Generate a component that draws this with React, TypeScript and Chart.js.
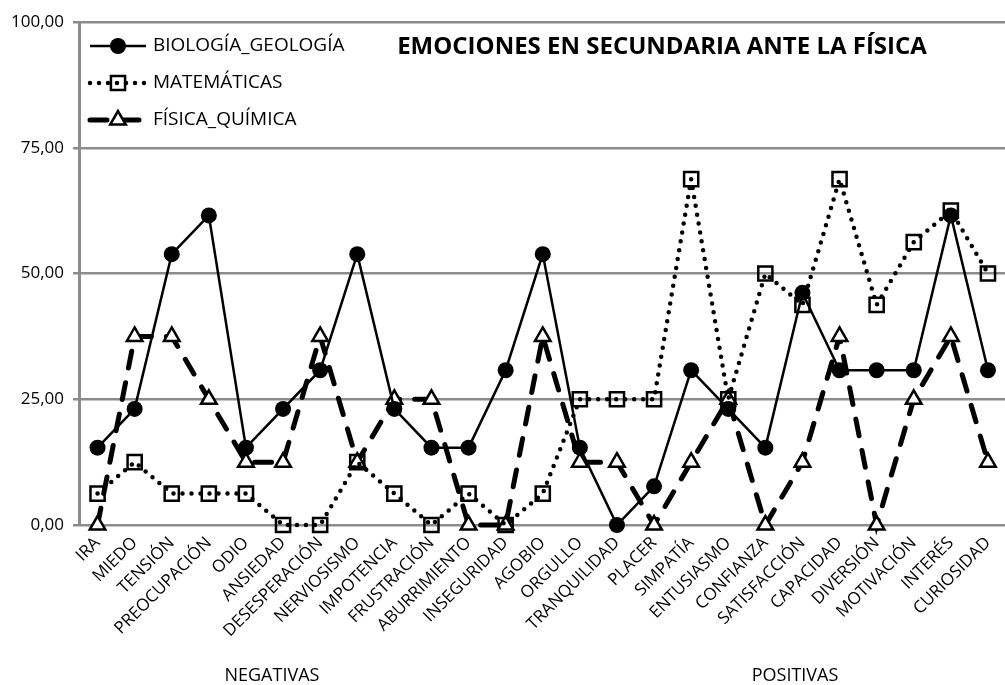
import React, { useEffect, useRef } from 'react';
import { Chart, registerables } from 'chart.js';

Chart.register(...registerables);

const chartTitle = 'EMOCIONES EN SECUNDARIA ANTE LA FÍSICA';

const categories = [
  'IRA', 'MIEDO', 'TENSIÓN', 'PREOCUPACIÓN', 'ODIO', 'ANSIEDAD', 'DESESPERACIÓN',
  'NERVIOSISMO', 'IMPOTENCIA', 'FRUSTRACIÓN', 'ABURRIMIENTO', 'INSEGURIDAD', 'AGOBIO',
  'ORGULLO', 'TRANQUILIDAD', 'PLACER', 'SIMPATÍA', 'ENTUSIASMO', 'CONFIANZA',
  'SATISFACCIÓN', 'CAPACIDAD', 'DIVERSIÓN', 'MOTIVACIÓN', 'INTERÉS', 'CURIOSIDAD',
];

const seriesNames = ['BIOLOGÍA_GEOLOGÍA', 'MATEMÁTICAS', 'FÍSICA_QUÍMICA'];

const biologiaGeologia = [
  15.38, 23.08, 53.85, 61.54, 15.38, 23.08, 30.77, 53.85, 23.08, 15.38, 15.38, 30.77, 53.85,
  15.38, 0, 7.69, 30.77, 23.08, 15.38, 46.15, 30.77, 30.77, 30.77, 61.54, 30.77,
];

const matematicas = [
  6.25, 12.5, 6.25, 6.25, 6.25, 0, 0, 12.5, 6.25, 0, 6.25, 0, 6.25,
  25, 25, 25, 68.75, 25, 50, 43.75, 68.75, 43.75, 56.25, 62.5, 50,
];

const fisicaQuimica = [
  0, 37.5, 37.5, 25, 12.5, 12.5, 37.5, 12.5, 25, 25, 0, 0, 37.5,
  12.5, 12.5, 0, 12.5, 25, 0, 12.5, 37.5, 0, 25, 37.5, 12.5,
];

const yTickLabels = ['0,00', '25,00', '50,00', '75,00', '100,00'];
const groupLabels = ['NEGATIVAS', 'POSITIVAS'];

const FONT = '"Open Sans", "Noto Sans", sans-serif';
const GRID = '#8c8c8c';

function drawMarker(ctx: CanvasRenderingContext2D, style: string, x: number, y: number, r: number, fill: string, lw: number) {
  ctx.save();
  ctx.setLineDash([]);
  ctx.lineWidth = lw;
  ctx.strokeStyle = '#000';
  ctx.fillStyle = fill;
  ctx.beginPath();
  if (style === 'circle') {
    ctx.arc(x, y, r, 0, Math.PI * 2);
    ctx.fill();
  } else if (style === 'rect') {
    const s = r * Math.SQRT1_2;
    ctx.rect(x - s, y - s, 2 * s, 2 * s);
    ctx.fill();
    ctx.stroke();
  } else {
    ctx.moveTo(x, y - r);
    ctx.lineTo(x + r * Math.sin((2 * Math.PI) / 3), y + r * 0.5);
    ctx.lineTo(x - r * Math.sin((2 * Math.PI) / 3), y + r * 0.5);
    ctx.closePath();
    ctx.fill();
    ctx.stroke();
  }
  ctx.restore();
}

const overlayPlugin = {
  id: 'overlay',
  afterDraw(chart: any) {
    const ctx: CanvasRenderingContext2D = chart.ctx;
    const area = chart.chartArea;
    const xScale = chart.scales.x;
    ctx.save();
    // title
    ctx.fillStyle = '#000';
    ctx.font = `bold 24px ${FONT}`;
    ctx.textAlign = 'center';
    ctx.textBaseline = 'middle';
    ctx.fillText(chartTitle, 662, area.top + 25);

    // legend
    chart.data.datasets.forEach((ds: any, i: number) => {
      const y = area.top + 24 + i * 37;
      const x0 = area.left + 11;
      const x1 = x0 + 56;
      ctx.save();
      ctx.strokeStyle = '#000';
      ctx.lineWidth = ds.borderWidth;
      ctx.lineCap = ds.borderCapStyle || 'butt';
      ctx.setLineDash(ds.borderDash || []);
      ctx.beginPath();
      ctx.moveTo(x0, y);
      ctx.lineTo(x1, y);
      ctx.stroke();
      ctx.restore();
      drawMarker(ctx, ds.pointStyle, (x0 + x1) / 2, y, ds.pointRadius, ds.pointBackgroundColor, ds.pointBorderWidth);
      ctx.fillStyle = '#000';
      ctx.font = `19px ${FONT}`;
      ctx.textAlign = 'left';
      ctx.textBaseline = 'middle';
      ctx.fillText(ds.label, x1 + 7, y);
    });

    // group labels under the axis
    ctx.font = `18px ${FONT}`;
    ctx.textAlign = 'center';
    ctx.textBaseline = 'middle';
    ctx.fillStyle = '#000';
    ctx.fillText(groupLabels[0], xScale.getPixelForValue(4.7), 676);
    ctx.fillText(groupLabels[1], xScale.getPixelForValue(18.8), 676);
    ctx.restore();
  },
};

export default function App() {
  const ref = useRef<HTMLCanvasElement>(null);

  useEffect(() => {
    document.body.style.margin = '0';
    const canvas = ref.current;
    if (!canvas) return;
    const chart = new Chart(canvas, {
      type: 'line',
      data: {
        labels: categories,
        datasets: [
          {
            label: seriesNames[0],
            data: biologiaGeologia,
            borderColor: '#000',
            borderWidth: 2.5,
            pointStyle: 'circle',
            pointRadius: 8,
            pointBackgroundColor: '#000',
            pointBorderColor: '#000',
            pointBorderWidth: 0,
            tension: 0,
            clip: false,
          },
          {
            label: seriesNames[1],
            data: matematicas,
            borderColor: '#000',
            borderWidth: 4.5,
            borderDash: [0, 9],
            borderCapStyle: 'round',
            pointStyle: 'rect',
            pointRadius: 10,
            pointBackgroundColor: 'rgba(255,255,255,0)',
            pointBorderColor: '#000',
            pointBorderWidth: 2.5,
            tension: 0,
            clip: false,
          },
          {
            label: seriesNames[2],
            data: fisicaQuimica,
            borderColor: '#000',
            borderWidth: 5,
            borderDash: [17, 15],
            borderCapStyle: 'round',
            pointStyle: 'triangle',
            pointRadius: 9,
            pointBackgroundColor: '#fff',
            pointBorderColor: '#000',
            pointBorderWidth: 2.5,
            tension: 0,
            clip: false,
          },
        ] as any,
      },
      options: {
        responsive: false,
        animation: false,
        events: [],
        layout: { padding: { top: 22, left: 0, right: 0, bottom: 0 } },
        plugins: {
          legend: { display: false },
          title: { display: false },
          tooltip: { enabled: false },
        },
        scales: {
          x: {
            offset: true,
            grid: { display: false, drawTicks: false },
            border: { display: false },
            ticks: {
              autoSkip: false,
              minRotation: 45,
              maxRotation: 45,
              padding: 8,
              color: '#000',
              font: { family: FONT, size: 17 },
            },
            afterFit: (scale: any) => {
              scale.height = 160;
            },
          },
          y: {
            min: 0,
            max: 100,
            grid: { color: GRID, lineWidth: 2.5, tickLength: 6, drawTicks: true },
            border: { display: true, color: GRID, width: 3 },
            ticks: {
              stepSize: 25,
              padding: 9,
              color: '#000',
              font: { family: FONT, size: 17 },
              callback: (_v: any, i: number) => yTickLabels[i],
            },
            afterFit: (scale: any) => {
              scale.width = 79;
            },
          },
        },
      } as any,
      plugins: [overlayPlugin],
    });
    return () => chart.destroy();
  }, []);

  return (
    <div style={{ position: 'fixed', left: 0, top: 0, width: 1005, height: 685, overflow: 'hidden', background: '#fff' }}>
      <canvas ref={ref} width={1019} height={685} style={{ display: 'block' }} />
    </div>
  );
}
